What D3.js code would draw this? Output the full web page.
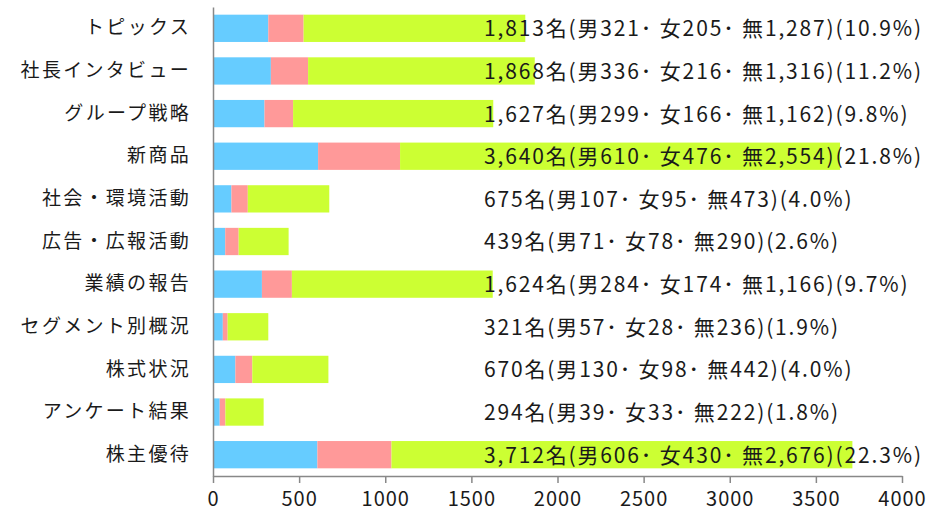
<!DOCTYPE html>
<html>
<head>
<meta charset="utf-8">
<script src="https://cdn.jsdelivr.net/npm/d3@7"></script>
<style>
  body { margin: 0; background: #fff; }
  text { font-family: "Noto Sans CJK JP", "Noto Sans", sans-serif; fill: #1a1a1a; }
</style>
</head>
<body>
<script>
// 閲覧者数（男・女・無回答）
var categories = ["トピックス", "社長インタビュー", "グループ戦略", "新商品", "社会・環境活動",
  "広告・広報活動", "業績の報告", "セグメント別概況", "株式状況", "アンケート結果", "株主優待"];
var male = [321, 336, 299, 610, 107, 71, 284, 57, 130, 39, 606];
var female = [205, 216, 166, 476, 95, 78, 174, 28, 98, 33, 430];
var none = [1287, 1316, 1162, 2554, 473, 290, 1166, 236, 442, 222, 2676];
var percents = ["10.9%", "11.2%", "9.8%", "21.8%", "4.0%", "2.6%", "9.7%", "1.9%", "4.0%", "1.8%", "22.3%"];
var xTicks = [0, 500, 1000, 1500, 2000, 2500, 3000, 3500, 4000];
var colors = ["#66CCFF", "#FF9999", "#CCFF33"];

var width = 932, height = 517;
var margin = {top: 7, right: 30, bottom: 41, left: 213};

var svg = d3.select("body").append("svg")
  .attr("width", width)
  .attr("height", height);

var x = d3.scaleLinear().domain([0, 4000]).range([margin.left, width - margin.right]);
var y = d3.scaleBand().domain(categories).range([margin.top, height - margin.bottom]).paddingInner(0.36).paddingOuter(0.18);

var rows = categories.map(function (c, i) {
  return {cat: c, male: male[i], female: female[i], none: none[i]};
});
var series = d3.stack().keys(["male", "female", "none"])(rows);

svg.append("g").selectAll("g")
  .data(series)
  .enter().append("g")
  .attr("fill", function (d, i) { return colors[i]; })
  .selectAll("rect")
  .data(function (d) { return d; })
  .enter().append("rect")
  .attr("x", function (d) { return x(d[0]); })
  .attr("y", function (d) { return y(d.data.cat); })
  .attr("width", function (d) { return x(d[1]) - x(d[0]); })
  .attr("height", y.bandwidth());

// x axis
var xAxis = svg.append("g")
  .attr("transform", "translate(0," + (height - margin.bottom) + ")")
  .call(d3.axisBottom(x).tickValues(xTicks).tickFormat(d3.format("d")).tickSize(7).tickSizeOuter(0).tickPadding(9));
xAxis.select(".domain").attr("stroke", "#888").attr("stroke-width", 1.5);
xAxis.selectAll(".tick line").attr("stroke", "#888").attr("stroke-width", 1.5);
xAxis.selectAll("text").style("font-size", "20px").style("letter-spacing", "1px").attr("fill", "#1a1a1a");

// y axis
var yAxis = svg.append("g")
  .attr("transform", "translate(" + margin.left + ",0)")
  .call(d3.axisLeft(y).tickSize(0).tickPadding(22));
yAxis.select(".domain").attr("stroke", "#888").attr("stroke-width", 1.5);
yAxis.selectAll("text").style("font-size", "19px").style("letter-spacing", "2.3px").attr("fill", "#1a1a1a");

// data labels
var fmt = d3.format(",");
svg.append("g").selectAll("text")
  .data(rows)
  .enter().append("text")
  .attr("x", 484)
  .attr("y", function (d) { return y(d.cat) + y.bandwidth() / 2; })
  .attr("dy", "0.38em")
  .style("font-size", "21px")
  .style("letter-spacing", "1.85px")
  .text(function (d, i) {
    return fmt(d.male + d.female + d.none) + "名(男" + fmt(d.male) + "･ 女" + fmt(d.female) +
      "･ 無" + fmt(d.none) + ")(" + percents[i] + ")";
  });
</script>
</body>
</html>
